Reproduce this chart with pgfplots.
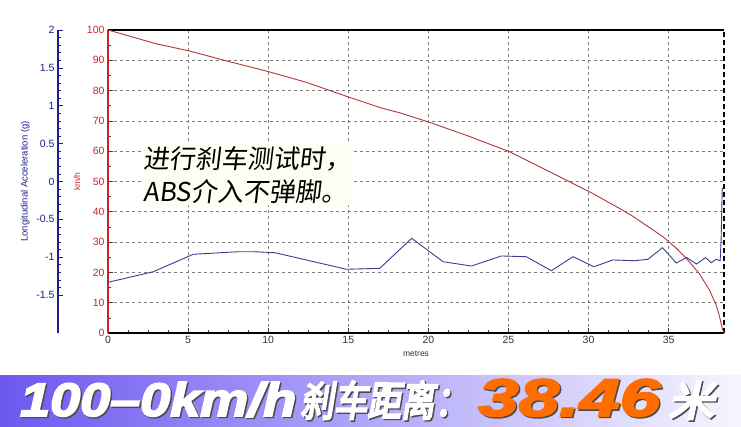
\documentclass[border=0pt]{standalone}
\usepackage{pgfplots}
\pgfplotsset{compat=1.18}
\usepackage{fontspec}
\setmainfont{Liberation Sans}
\newfontfamily\anncjk{Noto Sans CJK SC}[FakeSlant=0.12]
\newfontfamily\bancjk{Noto Sans CJK SC}[FakeSlant=0.2]
\newfontfamily\banlat{Liberation Sans}
\definecolor{redax}{RGB}{205,35,35}
\definecolor{redline}{RGB}{175,55,55}
\definecolor{navy}{RGB}{30,30,140}
\definecolor{blueline}{RGB}{60,60,145}
\definecolor{gridc}{RGB}{125,125,125}
\definecolor{orng}{RGB}{255,108,0}
\definecolor{bannerL}{RGB}{108,88,240}
\definecolor{bannerR}{RGB}{246,246,255}
\newcommand\emb[2]{\special{pdf:literal direct 2 Tr #1 w}#2\special{pdf:literal direct 0 Tr}}
\newcommand\seg[6]{%
  \node[anchor=base west, inner sep=0pt, text=black!70] at (#1+1.4, 9.6) {\resizebox{#2pt}{#3pt}{\emb{#5}{#6}}};
  \node[anchor=base west, inner sep=0pt, text=#4] at (#1, 11) {\resizebox{#2pt}{#3pt}{\emb{#5}{#6}}};}
\begin{document}
\begin{tikzpicture}[x=1pt,y=1pt]
\path[use as bounding box] (0,0) rectangle (741,427);
\shade[left color=bannerL, right color=bannerR] (0,0) rectangle (741,51.5);

% left acceleration ruler
\begin{axis}[at={(58pt,94pt)}, anchor=south west, scale only axis,
  width=1pt, height=303pt, xmin=0, xmax=1, ymin=-2, ymax=2,
  hide x axis, axis y line*=left,
  y axis line style={navy, line width=1.6pt, -},
  ytick={-1.5,-1,-0.5,0,0.5,1,1.5,2},
  minor y tick num=4, tick style={navy, line width=0.7pt},
  major tick length=5pt, minor tick length=3pt,
  yticklabel style={text=navy, font=\fontsize{10.5}{12}\selectfont},
  ylabel={Longitudinal Acceleration (g)},
  ylabel style={text=navy, font=\fontsize{9.5}{11}\selectfont},
  /pgf/number format/assume math mode=true]
\end{axis}

% main speed axis
\begin{axis}[at={(108pt,94pt)}, anchor=south west, scale only axis,
  width=616pt, height=303pt, xmin=0, xmax=38.46, ymin=0, ymax=100,
  axis x line*=bottom, axis y line*=left,
  x axis line style={black, line width=1.6pt, -},
  y axis line style={redax, line width=1.8pt, -},
  xtick={0,5,...,35}, ytick={0,10,...,100},
  minor x tick num=3, minor y tick num=1,
  tick style={black!75, line width=0.6pt},
  major tick length=5pt, minor tick length=3pt,
  grid=major,
  major grid style={gridc, dash pattern=on 3pt off 3pt, line width=0.6pt},
  xticklabel style={text=black!80, font=\fontsize{10.5}{12}\selectfont},
  yticklabel style={text=redax, font=\fontsize{10.5}{12}\selectfont},
  xlabel={metres}, xlabel style={font=\fontsize{8.5}{10}\selectfont, text=black!80},
  ylabel={km/h}, ylabel style={text=redax, font=\fontsize{8.5}{10}\selectfont},
  /pgf/number format/assume math mode=true, clip=false]
\draw[black, line width=1.2pt] (rel axis cs:0,1) -- (rel axis cs:1,1);
\draw[black, dash pattern=on 5pt off 3pt, line width=1.2pt] (rel axis cs:1,0) -- (rel axis cs:1,1);
\addplot[redline, line width=0.9pt] coordinates {
(0,100) (3.04,95.4) (5.07,93.1) (7.4,89.8) (10.06,86.2) (12.4,82.7)
(15.06,77.8) (17.17,74.1) (18.2,72.7) (20.09,69.5) (22.5,65.0) (25.08,59.8)
(28.82,49.9) (30.28,46.0) (31.94,41.1) (32.77,38.5) (34.64,31.8) (35.48,28.0)
(36.1,24.7) (36.93,19.5) (37.55,14.2) (37.97,9.2) (38.18,5.4) (38.35,1.5) (38.46,0)
};
\end{axis}

% acceleration trace overlay
\begin{axis}[at={(108pt,94pt)}, anchor=south west, scale only axis,
  width=616pt, height=303pt, xmin=0, xmax=38.46, ymin=-2, ymax=2, hide axis]
\addplot[blueline, line width=0.9pt] coordinates {
(0,-1.331) (2.83,-1.191) (5.32,-0.961) (8.13,-0.927) (9.06,-0.927) (10.42,-0.940)
(14.89,-1.159) (16.97,-1.146) (18.96,-0.750) (20.92,-1.059) (22.69,-1.116)
(24.56,-0.983) (26.12,-0.993) (27.68,-1.178) (29.03,-0.993) (30.34,-1.125)
(31.52,-1.036) (32.88,-1.046) (33.71,-1.027) (34.62,-0.874) (35.48,-1.076)
(36.12,-1.003) (36.74,-1.089) (37.31,-1.006) (37.66,-1.072) (37.97,-1.027)
(38.22,-1.046) (38.28,-0.772) (38.35,-0.09) (38.40,-0.10)
};
\end{axis}

% annotation
\node[anchor=north west, align=left, inner sep=2pt, fill=yellow!5, rounded corners=4pt,
  font=\anncjk\fontsize{26}{33}\selectfont] at (141,283) {进行刹车测试时，\\ABS介入不弹脚。};

% banner text
\seg{20}{276}{34}{white}{0.35}{\banlat\bfseries\itshape 100–0km/h}
\seg{300}{168}{35}{white}{0.55}{\bancjk 刹车距离：}
\seg{478}{182}{37}{orng}{0.3}{\banlat\bfseries\itshape 38.46}
\seg{668}{46}{35}{white}{0.55}{\bancjk 米}
\end{tikzpicture}
\end{document}
